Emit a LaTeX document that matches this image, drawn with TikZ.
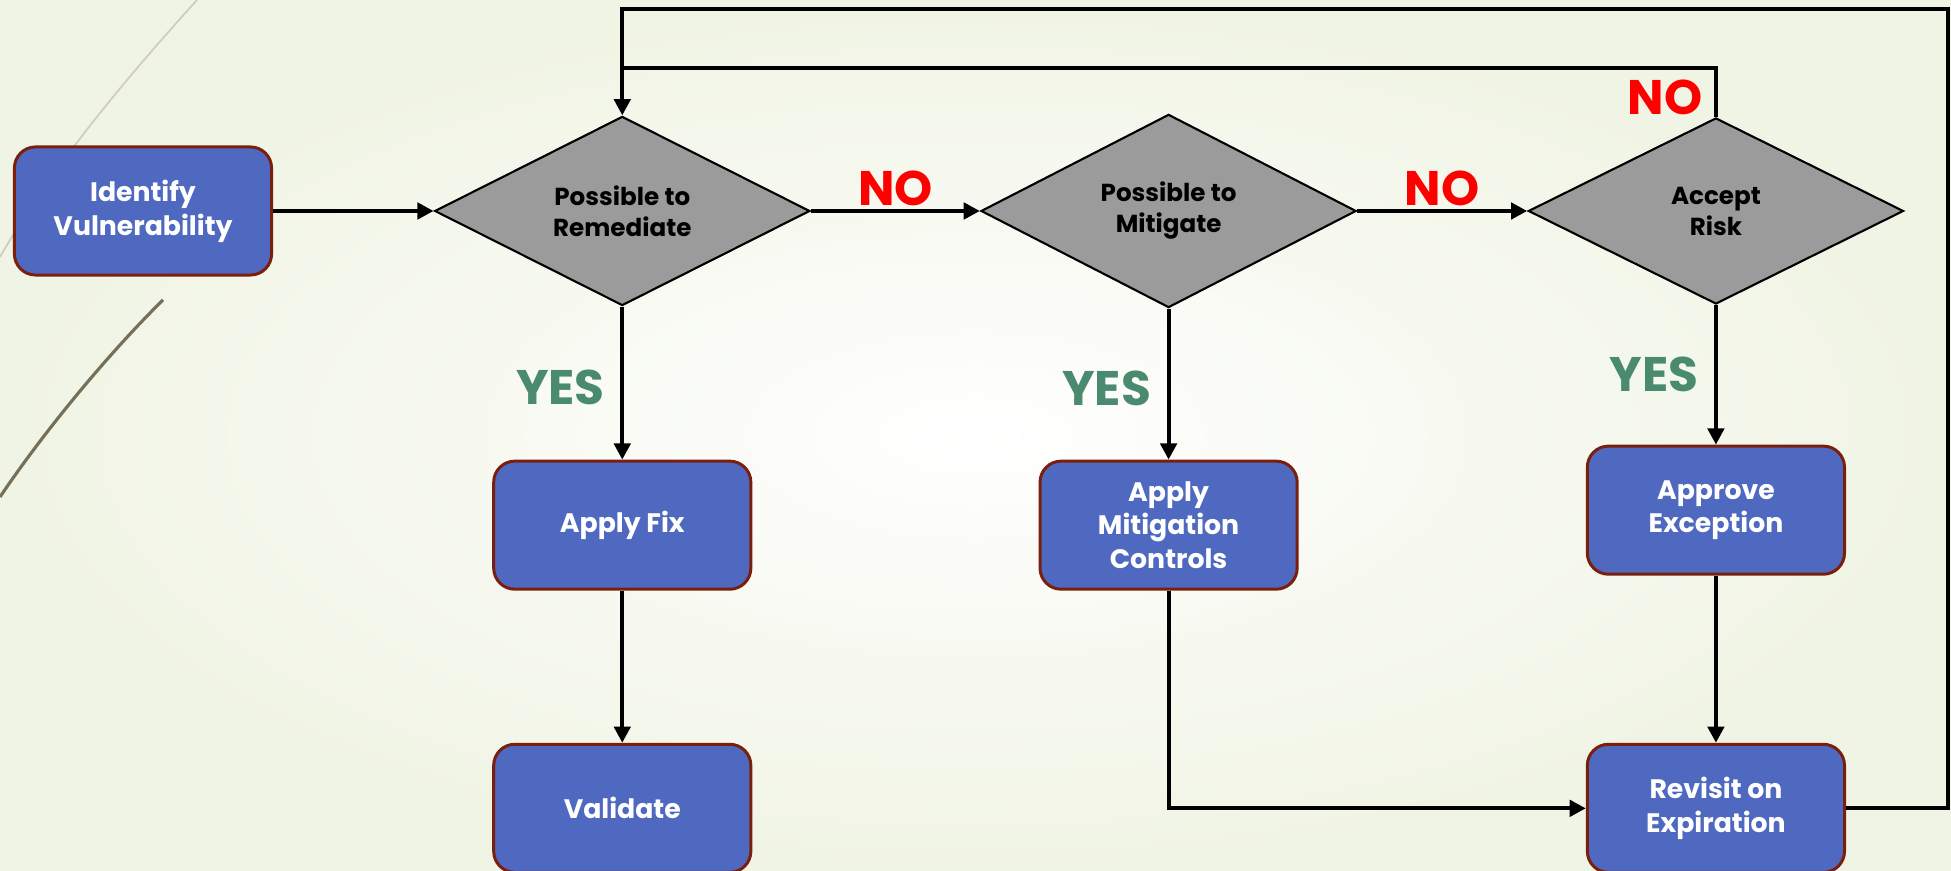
\documentclass[tikz,border=0pt]{standalone}
\usepackage{fontspec}
\setmainfont{Poppins}
\usetikzlibrary{shapes.geometric,arrows.meta}

\definecolor{boxblue}{RGB}{80,105,192}
\definecolor{boxedge}{RGB}{122,31,14}
\definecolor{diagray}{RGB}{155,155,155}
\definecolor{nored}{RGB}{255,0,0}
\definecolor{yesgreen}{RGB}{74,138,110}
\definecolor{bgcream}{RGB}{240,244,228}
\definecolor{swirllight}{RGB}{205,205,192}
\definecolor{swirldark}{RGB}{118,112,88}

\tikzset{
  box/.style={draw=boxedge, line width=0.85pt, fill=boxblue, rounded corners=6pt,
    minimum width=2.57cm, minimum height=1.28cm, align=center, text=white,
    font=\fontsize{7.6}{9.6}\selectfont\bfseries},
  decision/.style={diamond, draw=black, line width=0.6pt, fill=diagray,
    minimum width=3.75cm, minimum height=1.86cm, inner sep=0pt, align=center,
    font=\fontsize{7}{8.8}\selectfont\bfseries},
  nolabel/.style={text=nored, inner sep=1pt, font=\fontsize{13.8}{14}\selectfont\bfseries},
  yeslabel/.style={text=yesgreen, inner sep=1pt, font=\fontsize{13.8}{14}\selectfont\bfseries},
  flow/.style={line width=1.15pt},
}

\begin{document}
\begin{tikzpicture}[x=0.01cm, y=-0.01cm, >={Triangle[length=4.6pt, width=4.6pt]}]
  % background
  \useasboundingbox (0,0) rectangle (1951,871);
  \shade[inner color=white, outer color=bgcream] (0,0) rectangle (1951,871);
  \draw[swirllight, line width=0.5pt] (0,257) .. controls (50,170) and (120,85) .. (197,0);
  \draw[swirldark, line width=0.9pt] (163,300) .. controls (110,352) and (45,430) .. (0,497);

  \node (1) [box] at (143,211) {Identify\\Vulnerability};
  \node (2) [decision, right of=1, node distance=4.79cm] {Possible to\\Remediate};
  \node (3) [decision, right of=2, node distance=5.46cm] {Possible to\\Mitigate};
  \node (4) [decision, right of=3, node distance=5.47cm] {Accept\\Risk};
  \node (5) [box, below of=2, node distance=3.14cm] {Apply Fix};
  \node (6) [box, below of=5, node distance=2.83cm] {Validate};
  \node (7) [box, below of=3, node distance=3.14cm] {Apply\\Mitigation\\Controls};
  \node (8) [box, below of=4, node distance=2.99cm] {Approve\\Exception};
  \node (9) [box, below of=8, node distance=2.98cm] {Revisit on\\Expiration};

  \coordinate (join) at (622,68);
  \coordinate (loop) at (1948,9);

  \path[->, flow]
  (1) edge node {} (2)
  (2) edge node[nolabel, above] {NO} (3)
  (3) edge node[nolabel, above] {NO} (4)
  (2) edge node[yeslabel, left, xshift=-0.12cm, yshift=-0.04cm] {YES} (5)
  (3) edge node[yeslabel, left, xshift=-0.12cm, yshift=-0.04cm] {YES} (7)
  (4) edge node[yeslabel, left, xshift=-0.12cm] {YES} (8)
  (5) edge node {} (6)
  (8) edge node {} (9);

  \draw[->, flow] (7.south) |- (9.west);
  \draw[->, flow] (9.east) -| (loop) -| (2.north);
  \draw[flow] (4.north) |- node[nolabel, pos=0.2, left, xshift=-0.08cm] {NO} (join);
\end{tikzpicture}
\end{document}
